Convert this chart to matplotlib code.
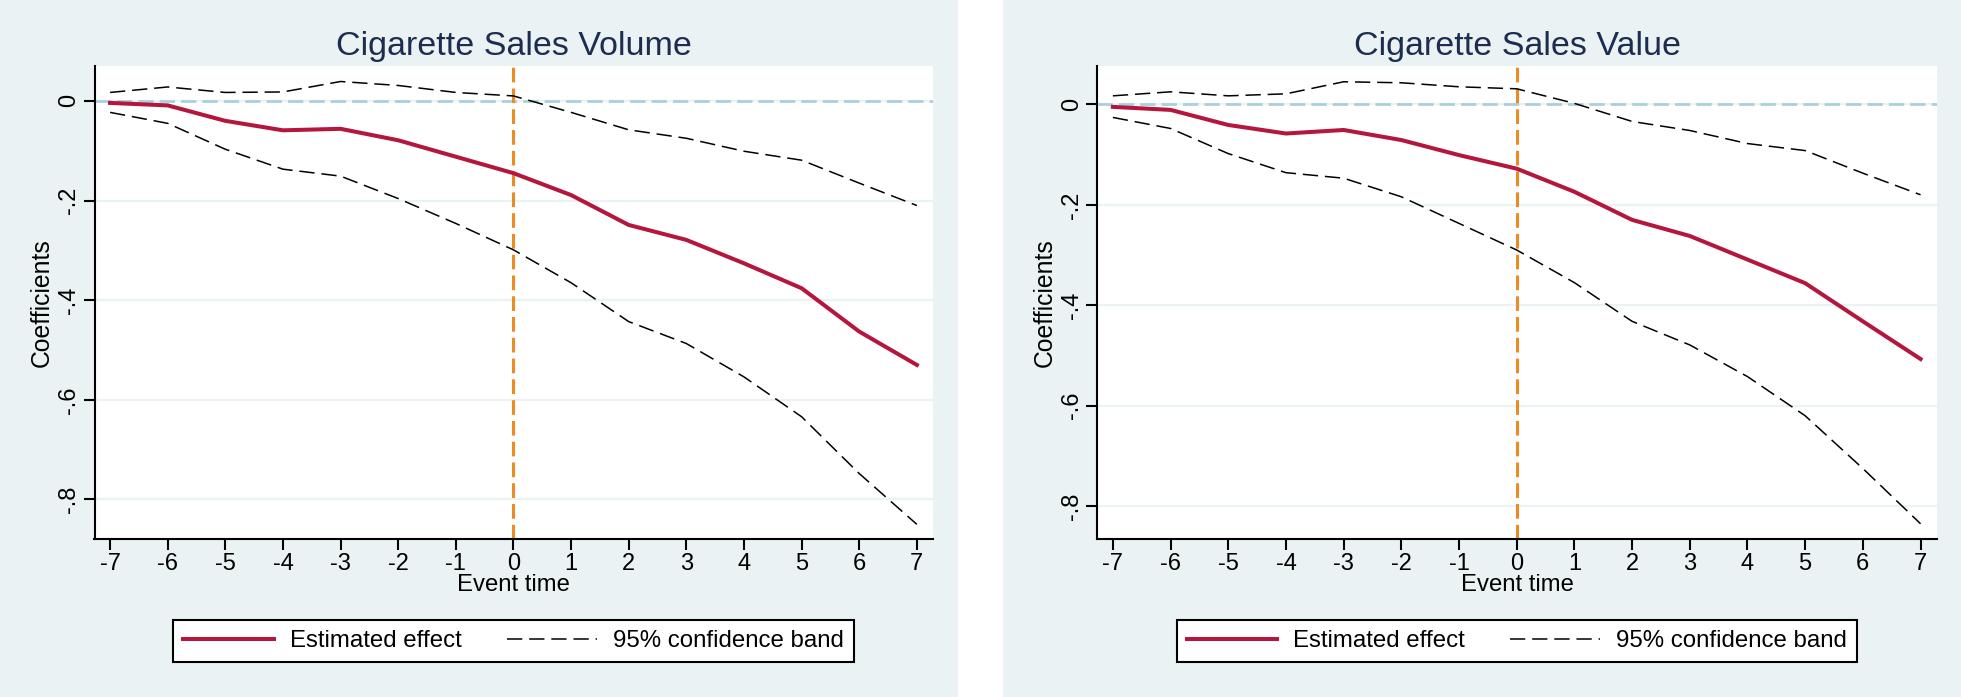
import matplotlib
matplotlib.use("Agg")
import matplotlib.pyplot as plt
from matplotlib.patches import Rectangle
from matplotlib.lines import Line2D

plt.rcParams['font.family'] = ['Liberation Sans', 'DejaVu Sans']

# data
event_time = list(range(-7, 8))

vol_effect = [-0.004, -0.009, -0.040, -0.059, -0.056, -0.079, -0.112, -0.145,
              -0.189, -0.249, -0.279, -0.326, -0.376, -0.463, -0.530]
vol_upper = [0.017, 0.028, 0.017, 0.018, 0.039, 0.031, 0.017, 0.010,
             -0.023, -0.058, -0.075, -0.101, -0.119, -0.165, -0.210]
vol_lower = [-0.023, -0.045, -0.097, -0.137, -0.151, -0.196, -0.246, -0.299,
             -0.365, -0.443, -0.487, -0.554, -0.634, -0.748, -0.850]

val_effect = [-0.005, -0.011, -0.041, -0.058, -0.051, -0.071, -0.101, -0.128,
              -0.174, -0.230, -0.262, -0.309, -0.356, -0.432, -0.507]
val_upper = [0.017, 0.025, 0.017, 0.021, 0.045, 0.043, 0.035, 0.031,
             0.002, -0.034, -0.052, -0.078, -0.092, -0.137, -0.180]
val_lower = [-0.026, -0.048, -0.098, -0.136, -0.147, -0.184, -0.237, -0.290,
             -0.355, -0.432, -0.479, -0.542, -0.620, -0.725, -0.835]

y_ticks = [0, -0.2, -0.4, -0.6, -0.8]
y_ticklabels = ['0', '-.2', '-.4', '-.6', '-.8']
titles = ['Cigarette Sales Volume', 'Cigarette Sales Value']
legend_labels = ['Estimated effect', '95% confidence band']

BG = '#EAF2F3'
RED = '#B5163E'
NAVY = '#1C2D50'
ORANGE = '#EC8B22'
ZERO = '#A9D0DC'

W, H = 1961, 697
fig = plt.figure(figsize=(W / 100, H / 100), dpi=100)
fig.patch.set_facecolor('white')
fig.add_artist(Rectangle((0, 0), 958 / W, 1, transform=fig.transFigure,
                         facecolor=BG, edgecolor='none', zorder=-10))
fig.add_artist(Rectangle((1003 / W, 0), 1 - 1003 / W, 1, transform=fig.transFigure,
                         facecolor=BG, edgecolor='none', zorder=-10))

top_px, bot_px = 65.7, 539.3
ax_h = bot_px - top_px


def draw_panel(left_px, right_px, ylim, title, effect, upper, lower):
    ax = fig.add_axes([left_px / W, 1 - bot_px / H, (right_px - left_px) / W, ax_h / H])
    ax.set_facecolor('white')
    ax_w = right_px - left_px

    ax.yaxis.grid(True, color=BG, lw=1.6, zorder=0)
    ax.set_axisbelow(True)
    ax.axhline(0, color=ZERO, lw=2, dashes=(5.5, 2.2), zorder=1)
    ax.axvline(0, color=ORANGE, lw=2.2, dashes=(4.8, 2.0), zorder=2)

    ax.plot(event_time, upper, color='black', lw=1.1, dashes=(10, 4.5), zorder=3)
    ax.plot(event_time, lower, color='black', lw=1.1, dashes=(10, 4.5), zorder=3)
    ax.plot(event_time, effect, color=RED, lw=2.9, solid_joinstyle='round', zorder=4)

    ax.set_xlim(-7.27, 7.28)
    ax.set_ylim(*ylim)
    ax.set_xticks(event_time)
    ax.set_xticklabels([str(t) for t in event_time])
    ax.set_yticks(y_ticks)
    ax.set_yticklabels(y_ticklabels, rotation=90, va='center')

    for s in ['top', 'right']:
        ax.spines[s].set_visible(False)
    for s in ['left', 'bottom']:
        ax.spines[s].set_linewidth(1.5)
        ax.spines[s].set_color('black')
    ax.tick_params(axis='both', direction='out', length=8, width=1.5,
                   labelsize=17, colors='black')
    ax.tick_params(axis='x', pad=2)
    ax.tick_params(axis='y', pad=2.5)

    ax.set_xlabel('Event time', fontsize=17.2)
    ax.xaxis.set_label_coords(0.5, -(574 - bot_px) / ax_h)
    ax.set_ylabel('Coefficients', fontsize=17.8)
    ax.yaxis.set_label_coords(-41 / ax_w, 0.5)

    ax.text(0.5, 1 + (top_px - 55) / ax_h, title, transform=ax.transAxes,
            ha='center', va='baseline', fontsize=24.5, color=NAVY)

    handles = [Line2D([], [], color=RED, lw=2.9),
               Line2D([], [], color='black', lw=1.1, dashes=(10, 4.5))]
    leg = ax.legend(handles, legend_labels, loc='center', ncol=2,
                    bbox_to_anchor=(0.5, -(641 - bot_px) / ax_h),
                    fontsize=17.3, handlelength=3.75, handletextpad=0.67,
                    columnspacing=1.9, borderpad=0.42, fancybox=False,
                    framealpha=1, edgecolor='black')
    leg.get_frame().set_linewidth(1.5)
    return ax


draw_panel(94.5, 933, (-0.880, 0.0707), titles[0], vol_effect, vol_upper, vol_lower)
draw_panel(1097.3, 1936.7, (-0.866, 0.077), titles[1], val_effect, val_upper, val_lower)

fig.savefig('out.png', dpi=100, facecolor=fig.get_facecolor())
